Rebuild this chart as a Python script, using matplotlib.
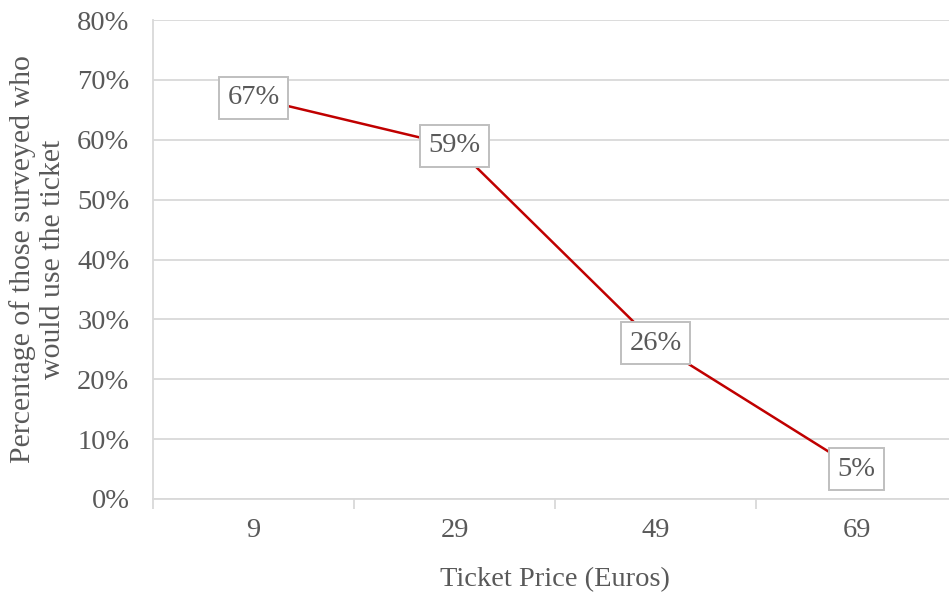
import matplotlib.pyplot as plt
from matplotlib.ticker import FixedLocator, PercentFormatter

prices = ['9', '29', '49', '69']
share_using = [67, 59, 26, 5]

plt.rcParams['font.family'] = ['Liberation Serif', 'DejaVu Serif']
grid_col = '#d9d9d9'
text_col = '#595959'
fs = 20.5

fig = plt.figure(figsize=(9.49, 5.93), dpi=100)
# the plot area runs slightly past the right edge
ax = fig.add_axes([153 / 949, 94 / 593, 804 / 949, 479 / 593])

xs = range(len(prices))
ax.plot(xs, share_using, color='#c00000', lw=1.8, zorder=3)
for x, v in zip(xs, share_using):
    ax.text(x, v, f'{v}%', ha='center', va='center', fontsize=fs, color=text_col, zorder=4,
            bbox=dict(boxstyle='square,pad=0.3', fc='white', ec='#bfbfbf', lw=1.4))

ax.set_xlim(-0.5, len(prices) - 0.5)
ax.set_ylim(0, 80)
ax.set_yticks(range(0, 81, 10))
ax.yaxis.set_major_formatter(PercentFormatter(decimals=0))
ax.set_xticks(list(xs))
ax.set_xticklabels(prices)
ax.xaxis.set_minor_locator(FixedLocator([i - 0.5 for i in range(len(prices) + 1)]))

ax.grid(axis='y', color=grid_col, lw=1.3)
ax.set_axisbelow(True)
for side in ['top', 'right']:
    ax.spines[side].set_visible(False)
ax.spines['left'].set_color(grid_col)
ax.spines['bottom'].set_color(grid_col)
ax.spines['left'].set_linewidth(1.3)
ax.spines['bottom'].set_linewidth(1.3)

ax.tick_params(axis='y', length=0, pad=17, labelsize=fs, labelcolor=text_col)
ax.tick_params(axis='x', which='major', length=0, pad=14, labelsize=fs, labelcolor=text_col)
ax.tick_params(axis='x', which='minor', length=7, width=1.3, color=grid_col)

ax.set_xlabel('Ticket Price (Euros)', fontsize=fs, color=text_col, labelpad=17)
ax.set_ylabel('Percentage of those surveyed who\nwould use the ticket', fontsize=21.5,
              color=text_col, labelpad=8, linespacing=1.2)

fig.savefig('out.png', dpi=100)
